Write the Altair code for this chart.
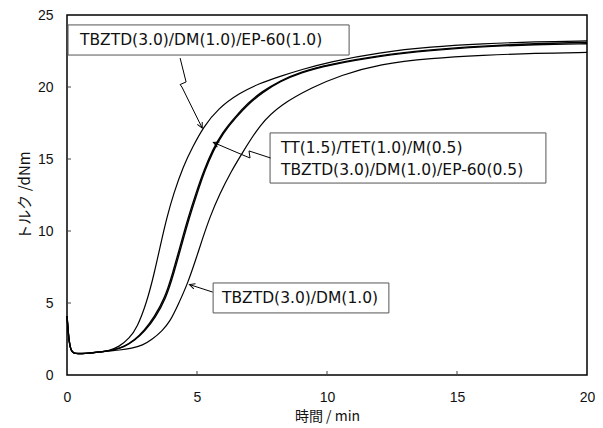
import math
import altair as alt
import pandas as pd

# ---------------- data ----------------
start_t = [0, 0.03, 0.08, 0.15, 0.25, 0.4, 0.7, 1.0, 1.3, 1.6]
start_y = [4.1, 3.4, 2.3, 1.7, 1.52, 1.48, 1.5, 1.55, 1.6, 1.68]

a_t = [2.0, 2.4, 2.7, 3.06, 3.35, 3.64, 3.85, 4.1, 4.47, 4.85, 5.24, 5.8, 6.65, 7.4, 8.2, 9.0, 10.1, 12.0, 14.0, 16.0, 18.0, 20.0]
a_y = [1.95, 2.55, 3.3, 5.0, 7.0, 9.4, 11.0, 12.6, 14.5, 15.9, 17.2, 18.5, 19.6, 20.25, 20.75, 21.2, 21.75, 22.4, 22.8, 23.0, 23.15, 23.2]

b_t = [1.8, 2.2, 2.6, 3.0, 3.4, 3.8, 4.1, 4.45, 4.7, 5.0, 5.3, 5.63, 6.0, 6.5, 7.0, 7.5, 8.2, 9.0, 10.0, 12.0, 14.0, 16.0, 18.0, 20.0]
b_y = [1.74, 1.95, 2.4, 3.05, 4.0, 5.3, 7.0, 9.3, 10.9, 12.6, 14.2, 15.6, 16.8, 17.9, 18.85, 19.6, 20.4, 21.0, 21.5, 22.15, 22.55, 22.8, 22.95, 23.0]

c_t = [1.8, 2.2, 2.6, 2.97, 3.36, 3.76, 4.06, 4.41, 4.66, 4.96, 5.27, 5.6, 5.97, 6.47, 6.97, 7.47, 8.2, 9.0, 10.0, 12.0, 14.0, 16.0, 18.0, 20.0]
c_y = [1.75, 1.97, 2.43, 3.08, 4.03, 5.33, 7.03, 9.33, 10.93, 12.63, 14.23, 15.63, 16.83, 17.93, 18.9, 19.65, 20.45, 21.05, 21.55, 22.2, 22.6, 22.85, 23.02, 23.1]

d_t = [2.0, 2.5, 2.9, 3.3, 3.65, 3.96, 4.28, 4.65, 4.95, 5.2, 5.5, 5.88, 6.3, 6.77, 7.42, 8.19, 9.46, 10.5, 12.04, 14.0, 16.0, 18.0, 20.0]
d_y = [1.72, 1.85, 2.05, 2.5, 3.05, 3.7, 4.9, 6.4, 8.0, 9.4, 11.0, 12.6, 14.1, 15.5, 17.4, 18.75, 20.0, 20.8, 21.6, 22.0, 22.2, 22.35, 22.4]

series_names = ["A", "B", "C", "D"]
series_t = [a_t, b_t, c_t, d_t]
series_y = [a_y, b_y, c_y, d_y]
series_w = [1.2, 1.4, 1.4, 1.2]

x_ticks = [0, 5, 10, 15, 20]
y_ticks = [0, 5, 10, 15, 20, 25]

# annotation boxes (data units): x1, x2, y1, y2
box_x1 = [0.04, 7.81, 5.62]
box_x2 = [10.85, 18.42, 12.38]
box_y1 = [24.31, 16.81, 6.39]
box_y2 = [22.22, 13.33, 4.31]

label_text = ["TBZTD(3.0)/DM(1.0)/EP-60(1.0)", "TT(1.5)/TET(1.0)/M(0.5)",
              "TBZTD(3.0)/DM(1.0)/EP-60(0.5)", "TBZTD(3.0)/DM(1.0)"]
label_x = [0.5, 8.23, 8.23, 5.96]
label_y = [23.26, 15.76, 14.24, 5.35]

# arrows (data units), last point is the tip
arrow1_x = [4.35, 4.58, 4.35, 4.42, 5.2]
arrow1_y = [22.01, 20.35, 20.17, 20.0, 17.15]
arrow2_x = [7.83, 7.0, 7.04, 6.85, 5.63]
arrow2_y = [15.07, 15.56, 15.07, 15.21, 16.15]
arrow3_x = [5.6, 4.71]
arrow3_y = [5.76, 6.28]
arrows_x = [arrow1_x, arrow2_x, arrow3_x]
arrows_y = [arrow1_y, arrow2_y, arrow3_y]

# ---------------- build tables ----------------
W, H = 520, 360
XMAX, YMAX = 20, 25
px_x = W / XMAX
px_y = H / YMAX

rows = []
for name, ts, ys, w in zip(series_names, series_t, series_y, series_w):
    allt = start_t + ts
    ally = start_y + ys
    for i, (t, y) in enumerate(zip(allt, ally)):
        rows.append({"series": name, "t": t, "y": y, "o": i, "w": w})
curves = pd.DataFrame(rows)

boxes = pd.DataFrame({"x1": box_x1, "x2": box_x2, "y1": box_y1, "y2": box_y2})
labels = pd.DataFrame({"x": label_x, "y": label_y, "text": label_text})

arows = []
heads = []
for k, (ax, ay) in enumerate(zip(arrows_x, arrows_y)):
    for i, (xx, yy) in enumerate(zip(ax, ay)):
        arows.append({"arrow": k, "x": xx, "y": yy, "o": i})
    dx = (ax[-1] - ax[-2]) * px_x
    dy = -(ay[-1] - ay[-2]) * px_y
    ang = math.degrees(math.atan2(dy, dx)) % 360
    heads.append({"x": ax[-1], "y": ay[-1], "angle": ang})
arrows = pd.DataFrame(arows)
heads = pd.DataFrame(heads)

xs = alt.Scale(domain=[0, XMAX], nice=False, zero=False)
ys = alt.Scale(domain=[0, YMAX], nice=False, zero=False)

FONT = "Liberation Sans"
TFONT = "DejaVu Sans"
JFONT = "Noto Sans CJK JP"

xaxis = alt.Axis(values=x_ticks, title="時間 / min", tickSize=0, domain=False, grid=False,
                 labelFont=FONT, labelFontSize=14, labelColor="#111", labelPadding=15,
                 labelFlush=False, titleFont=JFONT, titleFontSize=14, titleFontWeight="normal",
                 titleColor="#111", titlePadding=5)
yaxis = alt.Axis(values=y_ticks, title="トルク /dNm", tickSize=0, domain=False, grid=False,
                 labelFont=FONT, labelFontSize=14, labelColor="#111", labelPadding=14,
                 labelFlush=False, titleFont=JFONT, titleFontSize=15, titleFontWeight="normal",
                 titleColor="#111", titlePadding=5)

lines = alt.Chart(curves).mark_line(color="black", interpolate="basis").encode(
    x=alt.X("t:Q", scale=xs, axis=xaxis),
    y=alt.Y("y:Q", scale=ys, axis=yaxis),
    detail="series:N",
    order="o:Q",
    strokeWidth=alt.StrokeWidth("w:Q", scale=None, legend=None),
)

xt = alt.Chart(pd.DataFrame({"v": x_ticks[1:-1]})).mark_rule(color="#444", strokeWidth=1).encode(
    x=alt.X("v:Q", scale=xs), y=alt.value(H), y2=alt.value(H - 4))
yt = alt.Chart(pd.DataFrame({"v": y_ticks[1:-1]})).mark_rule(color="#444", strokeWidth=1).encode(
    y=alt.Y("v:Q", scale=ys), x=alt.value(0), x2=alt.value(4))

rects = alt.Chart(boxes).mark_rect(fill="white", stroke="#555", strokeWidth=1).encode(
    x=alt.X("x1:Q", scale=xs), x2="x2:Q", y=alt.Y("y1:Q", scale=ys), y2="y2:Q")

texts = alt.Chart(labels).mark_text(align="left", baseline="middle", font=TFONT,
                                    fontSize=15.5, color="#111").encode(
    x=alt.X("x:Q", scale=xs), y=alt.Y("y:Q", scale=ys), text="text:N")

arrow_lines = alt.Chart(arrows).mark_line(color="black", strokeWidth=1).encode(
    x=alt.X("x:Q", scale=xs), y=alt.Y("y:Q", scale=ys), detail="arrow:N", order="o:Q")

arrow_heads = alt.Chart(heads).mark_point(
    shape="M-1,-0.5L0,0L-1,0.5", filled=False, color="black", strokeWidth=1, size=120, opacity=1
).encode(x=alt.X("x:Q", scale=xs), y=alt.Y("y:Q", scale=ys), angle=alt.Angle("angle:Q", scale=None))

chart = alt.layer(lines, xt, yt, rects, texts, arrow_lines, arrow_heads).properties(
    width=W, height=H,
    autosize=alt.AutoSizeParams(type="none"),
    padding={"left": 59, "top": 7, "right": 8, "bottom": 53},
    background="white",
).configure_view(stroke="black", strokeWidth=1.5)

chart.save("out.html", embed_options={"renderer": "svg", "actions": False})
